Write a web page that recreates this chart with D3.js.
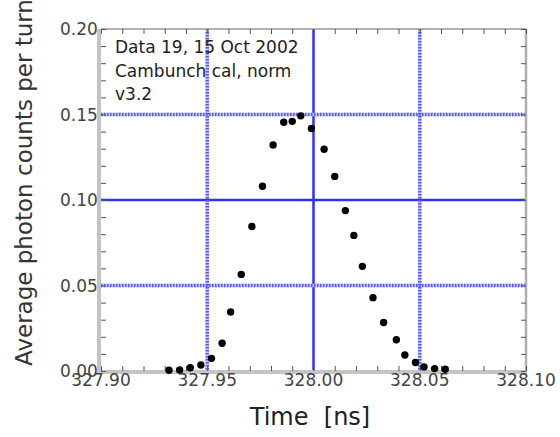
<!DOCTYPE html>
<html>
<head>
<meta charset="utf-8">
<script src="https://cdn.jsdelivr.net/npm/d3@7"></script>
<style>
  body { margin: 0; background: #fff; }
  svg { display: block; font-family: "DejaVu Sans", sans-serif; }
</style>
</head>
<body>
<svg width="560" height="437"></svg>
<script>
const svg = d3.select('svg');

// time of each sample (ns)
const times = [327.932, 327.937, 327.942, 327.947, 327.952, 327.957, 327.961, 327.966,
  327.971, 327.976, 327.981, 327.986, 327.990, 327.994, 327.999, 328.005, 328.010,
  328.015, 328.019, 328.023, 328.028, 328.033, 328.039, 328.043, 328.048, 328.052,
  328.057, 328.062];
// average photon counts per turn
const counts = [0.0004, 0.0006, 0.0019, 0.0035, 0.0074, 0.0162, 0.0345, 0.0565,
  0.0845, 0.1080, 0.1322, 0.1455, 0.1460, 0.1492, 0.1418, 0.1297, 0.1138,
  0.0938, 0.0793, 0.0612, 0.0429, 0.0284, 0.0183, 0.0094, 0.0050, 0.0024,
  0.0014, 0.0010];

const xTicks = [327.90, 327.95, 328.00, 328.05, 328.10];
const yTicks = [0.00, 0.05, 0.10, 0.15, 0.20];
const xGrid = [327.95, 328.00, 328.05];
const yGrid = [0.05, 0.10, 0.15];
const solidGrid = [328.00, 0.10];

const noteLines = ['Data 19, 15 Oct 2002', 'Cambunch cal, norm', 'v3.2'];
const xAxisLabel = 'Time  [ns]';
const yAxisLabel = 'Average photon counts per turn';

const margin = { top: 29, left: 101, right: 34, bottom: 66 };
const innerWidth = 560 - margin.left - margin.right;
const innerHeight = 437 - margin.top - margin.bottom;

const x = d3.scaleLinear().domain([327.90, 328.10]).range([0, innerWidth]);
const y = d3.scaleLinear().domain([0, 0.20]).range([innerHeight, 0]);

const data = times.map((t, i) => ({ t: t, v: counts[i] }));

// y tick labels go first so the plot area hides their right edge
svg.append('g')
  .selectAll('text')
  .data(yTicks)
  .join('text')
  .attr('x', 60)
  .attr('y', d => margin.top + y(d) + 6)
  .attr('font-size', 17)
  .attr('fill', '#444')
  .text(d => d3.format('.2f')(d));

const g = svg.append('g')
  .attr('transform', `translate(${margin.left},${margin.top})`);

g.append('rect')
  .attr('x', -3)
  .attr('width', innerWidth + 3)
  .attr('height', innerHeight)
  .attr('fill', '#fff');

// blue grid lines: solid ones plain, the others a pale band with dots on it
const isSolid = d => solidGrid.includes(d);
const gridLayers = [
  { cls: 'band', color: d => isSolid(d) ? '#2f2fff' : '#c4c4ff', width: d => isSolid(d) ? 2.5 : 3.5, dash: null },
  { cls: 'dots', color: d => isSolid(d) ? 'none' : '#5a5aff', width: () => 3.5, dash: '1.5,1.5' }
];

gridLayers.forEach(layer => {
  g.selectAll('.v' + layer.cls)
    .data(xGrid)
    .join('line')
    .attr('class', 'v' + layer.cls)
    .attr('x1', d => x(d)).attr('x2', d => x(d))
    .attr('y1', 0).attr('y2', innerHeight)
    .attr('stroke', layer.color)
    .attr('stroke-width', layer.width)
    .attr('stroke-dasharray', layer.dash);

  g.selectAll('.h' + layer.cls)
    .data(yGrid)
    .join('line')
    .attr('class', 'h' + layer.cls)
    .attr('x1', 0).attr('x2', innerWidth)
    .attr('y1', d => y(d)).attr('y2', d => y(d))
    .attr('stroke', layer.color)
    .attr('stroke-width', layer.width)
    .attr('stroke-dasharray', layer.dash);
});

// frame
g.append('line').attr('x1', 0).attr('x2', innerWidth).attr('y1', 0).attr('y2', 0)
  .attr('stroke', '#999').attr('stroke-width', 1.5);
g.append('line').attr('x1', innerWidth).attr('x2', innerWidth).attr('y1', 0).attr('y2', innerHeight)
  .attr('stroke', '#b0b0b0').attr('stroke-width', 2.5);
g.append('line').attr('x1', -2).attr('x2', -2).attr('y1', 0).attr('y2', innerHeight + 2)
  .attr('stroke', '#c4c4c4').attr('stroke-width', 4);
g.append('line').attr('x1', -2).attr('x2', innerWidth + 1).attr('y1', innerHeight + 1).attr('y2', innerHeight + 1)
  .attr('stroke', '#c4c4c4').attr('stroke-width', 4);

// inward ticks on all four sides
const xAxisBottom = d3.axisBottom(x).ticks(20).tickSize(-5).tickFormat('');
const xAxisTop = d3.axisTop(x).ticks(20).tickSize(-5).tickFormat('');
const yAxisLeft = d3.axisLeft(y).ticks(20).tickSize(-5).tickFormat('');
const yAxisRight = d3.axisRight(y).ticks(20).tickSize(-5).tickFormat('');

[[xAxisBottom, `translate(0,${innerHeight})`], [xAxisTop, 'translate(0,0)'],
 [yAxisLeft, 'translate(0,0)'], [yAxisRight, `translate(${innerWidth},0)`]]
  .forEach(([axis, tr]) => {
    const a = g.append('g').attr('transform', tr).call(axis);
    a.select('.domain').remove();
    a.selectAll('line').attr('stroke', '#555').attr('stroke-width', 1);
  });

// data points
g.selectAll('.dot')
  .data(data)
  .join('circle')
  .attr('class', 'dot')
  .attr('cx', d => x(d.t))
  .attr('cy', d => y(d.v))
  .attr('r', 3.7)
  .attr('fill', '#000');

// notes in the top left corner
g.selectAll('.note')
  .data(noteLines)
  .join('text')
  .attr('class', 'note')
  .attr('x', 14)
  .attr('y', (d, i) => 24 + i * 23.5)
  .attr('font-size', 17)
  .attr('fill', '#222')
  .text(d => d);

// x tick labels
svg.append('g')
  .selectAll('text')
  .data(xTicks)
  .join('text')
  .attr('x', d => margin.left + x(d))
  .attr('y', 386)
  .attr('text-anchor', 'middle')
  .attr('font-size', 17)
  .attr('fill', '#444')
  .text(d => d3.format('.2f')(d));

// axis labels
svg.append('text')
  .attr('x', 310)
  .attr('y', 425)
  .attr('text-anchor', 'middle')
  .attr('font-size', 24)
  .attr('fill', '#222')
  .style('white-space', 'pre')
  .text(xAxisLabel);

svg.append('text')
  .attr('transform', 'translate(32,366) rotate(-90)')
  .attr('font-size', 23)
  .attr('fill', '#333')
  .text(yAxisLabel);
</script>
</body>
</html>
